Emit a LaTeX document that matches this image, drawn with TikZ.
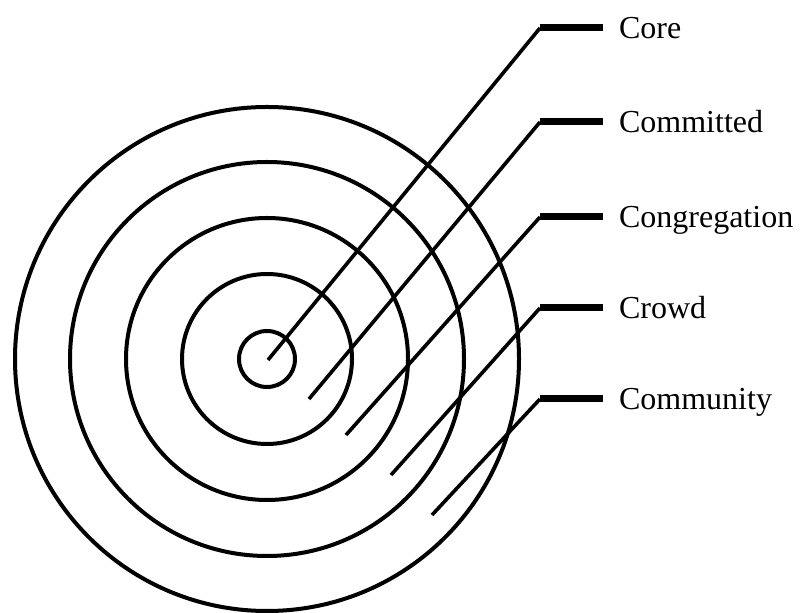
\documentclass[tikz,border=0pt]{standalone}
\usepackage{fontspec}
\setmainfont{Liberation Serif}
\usepackage{tikz}
\usetikzlibrary{calc}
\usetikzlibrary{positioning}
\definecolor{ring-ink}{HTML}{000000}

\begin{document}
\begin{tikzpicture}[x=0.5pt, y=-0.5pt,
    ring/.style={ring-ink, line width=2pt},
    leader/.style={ring-ink, line width=1.8pt},
    bar/.style={ring-ink, line width=3.5pt, shorten >=4.5pt},
    lbl/.style={ring-ink, font=\fontsize{16}{19}\selectfont, anchor=base west}]

    % Canvas
    \useasboundingbox (0,0) rectangle (802,613);

    % Concentric rings
    \coordinate (centre) at (267,359);
    \draw[ring] (centre) circle (28pt*0.5);
    \draw[ring] (centre) circle (85pt*0.5);
    \draw[ring] (centre) circle (141pt*0.5);
    \draw[ring] (centre) circle (197pt*0.5);
    \draw[ring] (centre) circle (252pt*0.5);

    % Labels
    \node[lbl] (core) at (612,38.5) {Core};
    \node[lbl] (committed) at (612,132.5) {Committed};
    \node[lbl] (congregation) at (612,227.5) {Congregation};
    \node[lbl] (crowd) at (612,318.5) {Crowd};
    \node[lbl] (community) at (612,409.5) {Community};

    % Leader start points inside the rings
    \coordinate (core-in) at (268,360);
    \coordinate (committed-in) at (309,399);
    \coordinate (congregation-in) at (346,435);
    \coordinate (crowd-in) at (391,475);
    \coordinate (community-in) at (432,515);

    % Bends of the leaders
    \coordinate (core-bend) at (540,28);
    \coordinate (committed-bend) at (540,122);
    \coordinate (congregation-bend) at (540,217);
    \coordinate (crowd-bend) at (540,308);
    \coordinate (community-bend) at (540,399);

    % Leaders
    \draw[leader] (core-in) -- (core-bend);
    \draw[leader] (committed-in) -- (committed-bend);
    \draw[leader] (congregation-in) -- (congregation-bend);
    \draw[leader] (crowd-in) -- (crowd-bend);
    \draw[leader] (community-in) -- (community-bend);

    % Thick bars up to the labels
    \draw[bar] (core-bend) -- (core-bend -| core.west);
    \draw[bar] (committed-bend) -- (committed-bend -| committed.west);
    \draw[bar] (congregation-bend) -- (congregation-bend -| congregation.west);
    \draw[bar] (crowd-bend) -- (crowd-bend -| crowd.west);
    \draw[bar] (community-bend) -- (community-bend -| community.west);

\end{tikzpicture}
\end{document}
